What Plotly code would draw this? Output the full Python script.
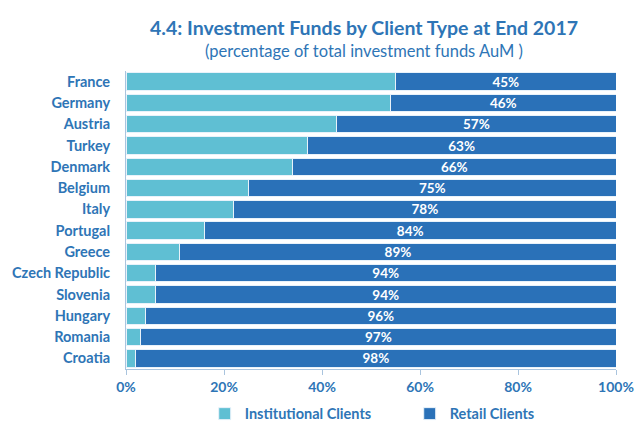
import plotly.graph_objects as go

countries = ["France", "Germany", "Austria", "Turkey", "Denmark", "Belgium", "Italy",
             "Portugal", "Greece", "Czech Republic", "Slovenia", "Hungary", "Romania", "Croatia"]
retail = [45, 46, 57, 63, 66, 75, 78, 84, 89, 94, 94, 96, 97, 98]
institutional = [55, 54, 43, 37, 34, 25, 22, 16, 11, 6, 6, 4, 3, 2]
tick_vals = [0, 20, 40, 60, 80, 100]
tick_text = ["0%", "20%", "40%", "60%", "80%", "100%"]

TXT = "#2E75B6"
FONT = "Lato"

fig = go.Figure()
fig.add_trace(go.Bar(
    y=countries, x=institutional, orientation="h", name="Institutional Clients",
    marker=dict(color="#5FBFD3", line=dict(color="#E8F2FA", width=1)),
    hoverinfo="x+y",
))
fig.add_trace(go.Bar(
    y=countries, x=retail, orientation="h", name="Retail Clients",
    marker=dict(color="#2A71B8", line=dict(color="#E8F2FA", width=1)),
    text=[f"{v}%" for v in retail], textposition="inside", insidetextanchor="middle",
    textfont=dict(color="white", size=13.5, family=FONT, weight="bold"), textangle=0,
))

fig.update_layout(
    barmode="stack", bargap=0.18,
    width=635, height=421,
    margin=dict(l=126, r=19, t=71, b=52, autoexpand=False),
    paper_bgcolor="white", plot_bgcolor="white",
    font=dict(family=FONT, color=TXT, size=13),
    showlegend=True,
    legend=dict(orientation="h", x=0.579, xanchor="center", y=-0.15, yanchor="middle",
                font=dict(size=14.5, color=TXT, family=FONT, weight="bold"), traceorder="normal",
                itemwidth=30, entrywidth=160),
    uniformtext=dict(minsize=12, mode="show"),
)
fig.update_xaxes(
    range=[0, 100], tickvals=tick_vals, ticktext=tick_text, automargin=False,
    showgrid=False, zeroline=False, showline=True, linecolor="#A9C4DE", linewidth=1,
    ticks="outside", ticklen=5, tickcolor="#A9C4DE",
    tickfont=dict(size=14, color=TXT, family=FONT, weight="bold"),
)
fig.update_yaxes(
    autorange="reversed", showgrid=False, showline=True, linecolor="#A9C4DE",
    ticks="", automargin=False,
    tickfont=dict(size=14.5, color=TXT, family=FONT, weight="bold"),
    ticklabelstandoff=12,
)
fig.add_annotation(text="4.4: Investment Funds by Client Type at End 2017",
                   xref="paper", yref="paper", x=0.486, y=1.0, yshift=44,
                   xanchor="center", yanchor="middle", showarrow=False,
                   font=dict(size=19.5, color=TXT, family=FONT, weight="bold"))
fig.add_annotation(text="(percentage of total investment funds AuM )",
                   xref="paper", yref="paper", x=0.486, y=1.0, yshift=20,
                   xanchor="center", yanchor="middle", showarrow=False,
                   font=dict(size=16.5, color=TXT, family=FONT))

fig.write_html("out.html", config={"displayModeBar": False},
               post_script="document.body.style.margin='0';document.body.style.overflow='hidden';")
